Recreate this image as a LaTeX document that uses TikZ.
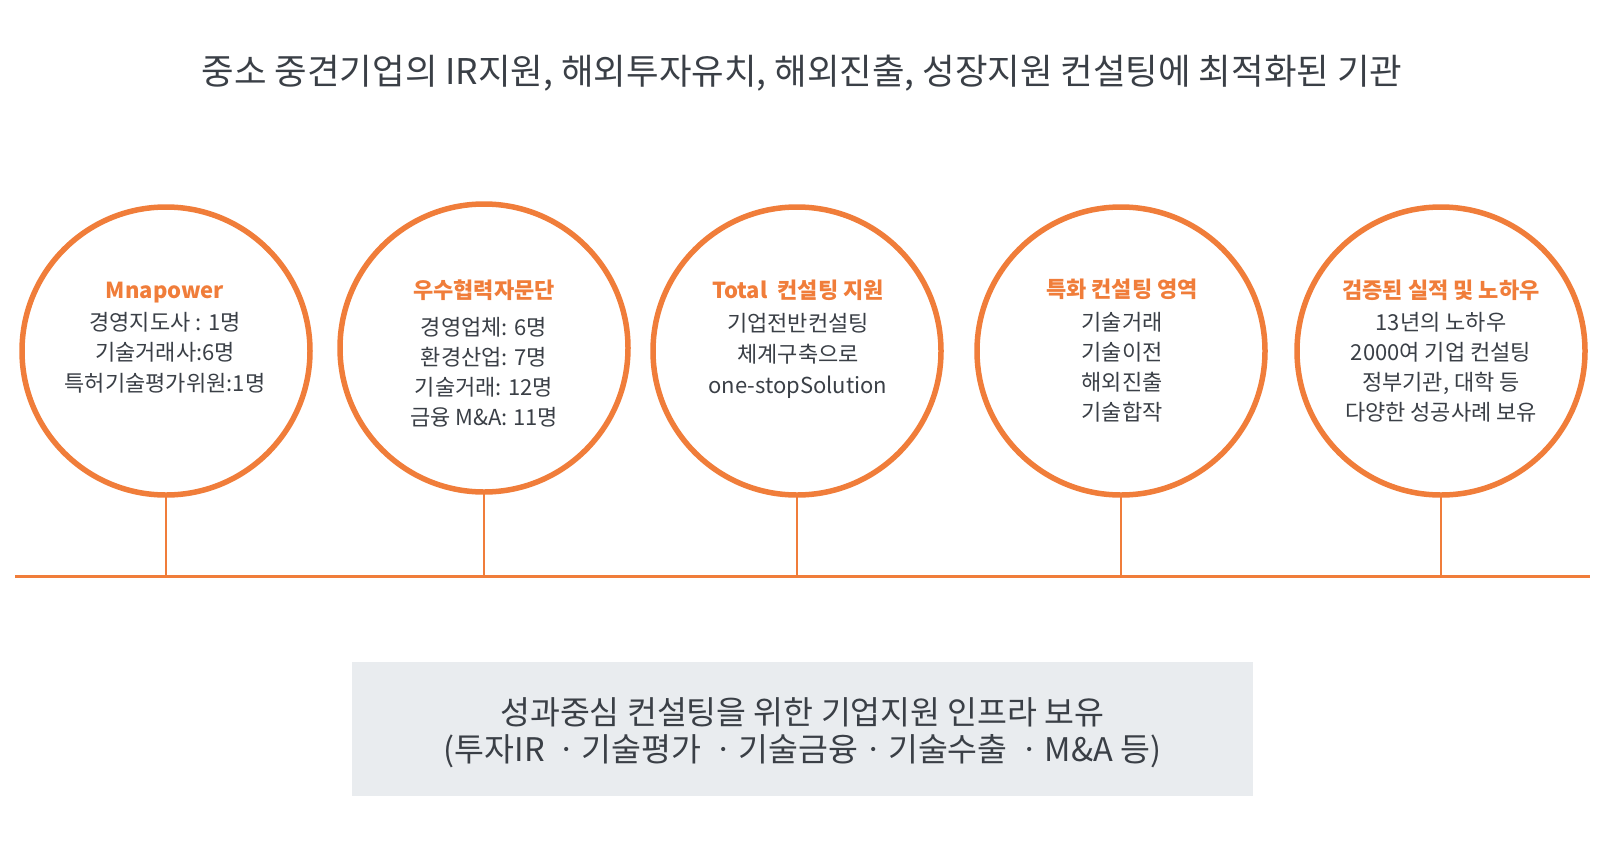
\documentclass[tikz,border=0pt]{standalone}
\usepackage{fontspec}
\setmainfont{Noto Sans CJK KR}
\definecolor{orng}{HTML}{F07D3A}
\definecolor{txt}{HTML}{3A3F46}
\definecolor{boxgray}{HTML}{E9ECEF}
\begin{document}
\begin{tikzpicture}[x=1pt,y=-1pt,
  ring/.style={circle,draw=orng,line width=5.5pt,minimum size=288pt,inner sep=0pt},
  stem/.style={draw=orng,line width=2.5pt},
  axisline/.style={draw=orng,line width=3pt},
  info/.style={anchor=base,align=center,text=txt,font=\fontsize{22}{30}\selectfont,inner sep=0pt},
  titletext/.style={text=txt,font=\fontsize{35.4}{40}\selectfont,inner sep=0pt},
  infobox/.style={fill=boxgray,minimum width=901pt,minimum height=134pt,inner sep=0pt},
  boxtext/.style={align=center,text=txt,font=\fontsize{32.5}{37}\selectfont,inner sep=0pt}
]
\useasboundingbox (0,0) rectangle (1603,855);
\newcommand{\hd}[1]{\textcolor{orng}{\bfseries #1}}

\node[titletext] (title) at (802,73) {중소 중견기업의 IR지원, 해외투자유치, 해외진출, 성장지원 컨설팅에 최적화된 기관};

\node[ring] (c1) at (166,351) {};
\node[ring] (c2) at (484,348) {};
\node[ring] (c3) at (797,351) {};
\node[ring] (c4) at (1121,351) {};
\node[ring] (c5) at (1441,351) {};

\node[info] (t1) at (165,391) {\hd{Mnapower}\\[2pt] 경영지도사 : 1명\\[0.5pt] 기술거래사:6명\\[0.5pt] 특허기술평가위원:1명};
\node[info] (t2) at (484,425) {\hd{우수협력자문단}\\[7pt] 경영업체: 6명\\ 환경산업: 7명\\ 기술거래: 12명\\ 금융 M\&A: 11명};
\node[info] (t3) at (798,393) {\hd{Total\ \ 컨설팅 지원}\\[3pt] 기업전반컨설팅\\[0.5pt] 체계구축으로\\[1pt] one-stopSolution};
\node[info] (t4) at (1122,420) {\hd{특화 컨설팅 영역}\\[2.7pt] 기술거래\\ 기술이전\\ 해외진출\\ 기술합작};
\node[info] (t5) at (1441,420) {\hd{검증된 실적 및 노하우}\\[2pt] 13년의 노하우\\ 2000여 기업 컨설팅\\ 정부기관, 대학 등\\ 다양한 성공사례 보유};

\coordinate (L) at (15,576);
\coordinate (R) at (1590,576);
\draw[axisline] (L) -- (R);
\foreach \i in {1,...,5}{
  \coordinate (a\i) at ([yshift=-2pt]c\i.south |- L);
  \draw[stem] (c\i.south) -- (a\i);
}

\node[infobox] (box) at (802.5,729) {};
\node[boxtext] (boxlabel) at (802.5,733) {성과중심 컨설팅을 위한 기업지원 인프라 보유\\ (투자IR ㆍ기술평가 ㆍ기술금융ㆍ기술수출 ㆍM\&A 등)};
\end{tikzpicture}
\end{document}
